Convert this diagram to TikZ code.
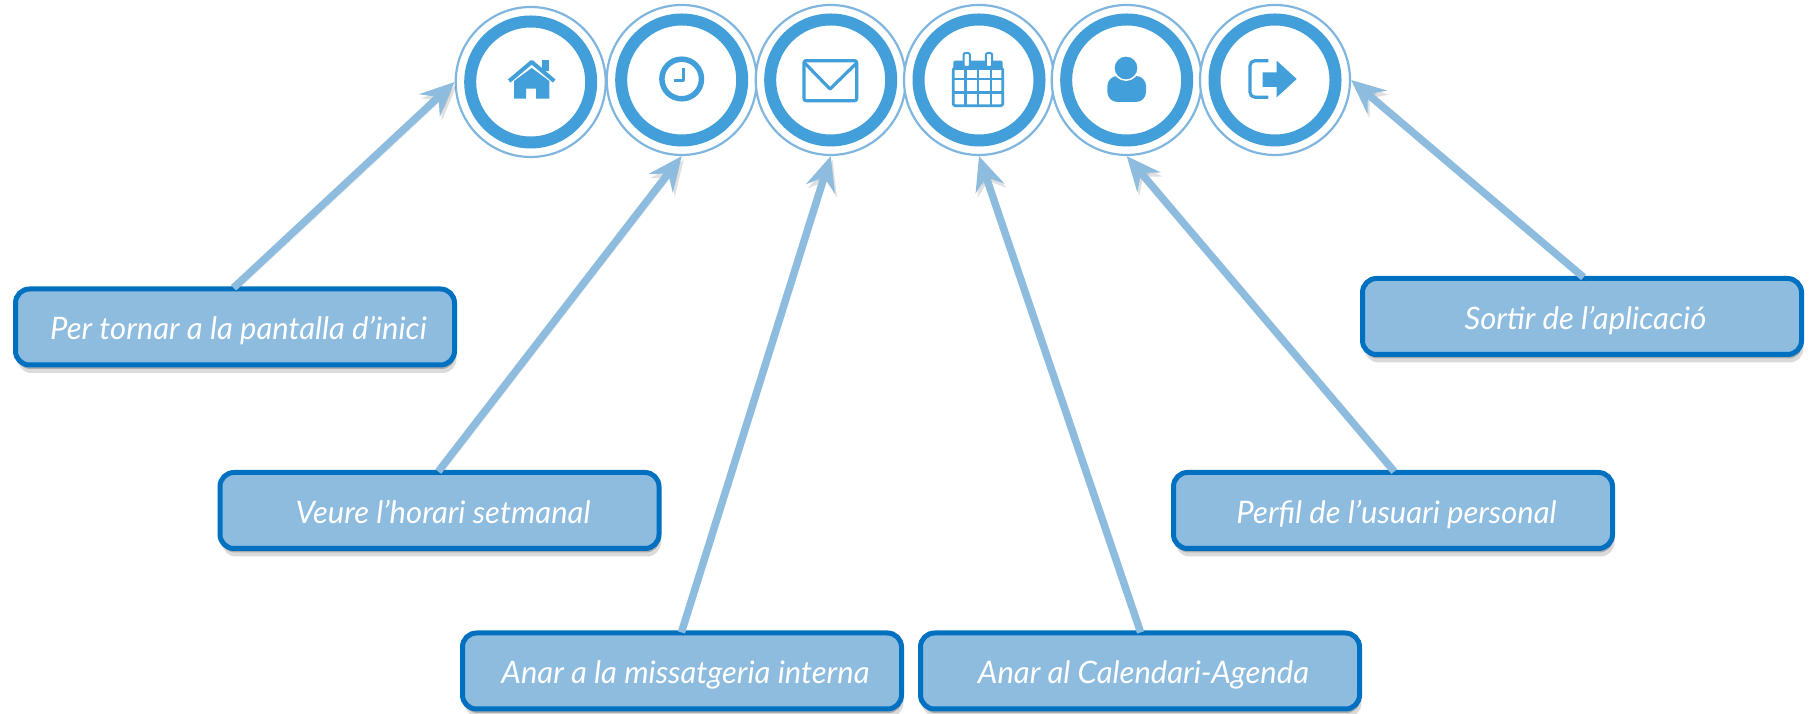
\documentclass[tikz,border=0pt]{standalone}
\usepackage{fontspec}
\setmainfont{Lato}
\usetikzlibrary{arrows.meta,shadows}
\definecolor{ringblue}{HTML}{429FDA}
\definecolor{lineblue}{HTML}{7FB6DF}
\definecolor{boxblue}{HTML}{8DBCDF}
\definecolor{edgeblue}{HTML}{0070C0}
\newcommand{\boxtext}[1]{\hspace*{7pt}#1}
\tikzset{
	iconring/.style={circle,draw=lineblue,line width=2.2pt,fill=white,minimum size=150pt,inner sep=0pt},
	thickring/.style={circle,draw=ringblue,line width=12pt,minimum size=121pt,inner sep=0pt},
	infobox/.style={draw=edgeblue,line width=5pt,fill=boxblue,rounded corners=14pt,
		minimum width=439pt,minimum height=76pt,inner sep=0pt,text=white,
		text height=32pt,text depth=6.4pt,
		font=\itshape\fontsize{31}{36}\selectfont,
		drop shadow={shadow xshift=2pt,shadow yshift=-8pt,opacity=.14,fill=black},
		drop shadow={shadow xshift=1pt,shadow yshift=-4pt,opacity=.22,fill=black}},
	pointer/.style={draw=boxblue,line width=7.5pt,-{Stealth[length=34pt,width=30pt,inset=12pt]},shorten <=-2pt,
		preaction={draw=black,opacity=.12,transform canvas={shift={(2pt,-4pt)}}}},
	icon/.style={ringblue,line width=3.2pt,line join=round}
}
\begin{document}
\begin{tikzpicture}[x=1pt,y=1pt]
\useasboundingbox (0,0) rectangle (1818,714);
% rings
\foreach \name/\px/\py in {home/530.7/632,clock/681.7/634,mail/830.7/634,cal/979/634,person/1126.7/634,exit/1275/634}{
	\node[iconring] (\name) at (\px,\py) {};
	\node[thickring] (\name-in) at (\name) {};
}
% boxes
\node[infobox] (tohome) at (235,387) {\boxtext{Per tornar a la pantalla d’inici}};
\node[infobox] (toclock) at (439.5,203.5) {\boxtext{Veure l’horari setmanal}};
\node[infobox] (tomail) at (682,43) {\boxtext{Anar a la missatgeria interna}};
\node[infobox] (tocal) at (1140,43) {\boxtext{Anar al Calendari-Agenda}};
\node[infobox] (toperson) at (1393,203.5) {\boxtext{Perfil de l’usuari personal}};
\node[infobox] (toexit) at (1582,397.5) {\boxtext{Sortir de l’aplicació}};
% arrows
\draw[pointer] (tohome.north) -- (home.west);
\draw[pointer] (toclock.north) -- (clock.south);
\draw[pointer] (tomail.north) -- (mail.south);
\draw[pointer] (tocal.north) -- (cal.south);
\draw[pointer] (toperson.north) -- (person.south);
\draw[pointer] (toexit.north) -- (exit.east);
% home
\begin{scope}[shift={(home.center)}]
	\fill[ringblue] (-16.7,-16.7) -- (-16.7,1) -- (1,14) -- (18.7,1) -- (18.7,-16.7) -- (5.3,-16.7)
		-- (5.3,-6.7) -- (-4.7,-6.7) -- (-4.7,-16.7) -- cycle;
	\fill[ringblue] (11,11) rectangle (18.7,21.7);
	\draw[icon,line width=4pt] (-21.5,1) -- (1,20) -- (23.5,1);
\end{scope}
% clock
\begin{scope}[shift={(clock.center)}]
	\draw[icon,line width=5.5pt] (0,1) circle (19.8);
	\draw[icon,line width=3pt] (1.7,12) -- (1.7,-0.7) -- (-7.3,-0.7);
\end{scope}
% mail
\begin{scope}[shift={(mail.center)}]
	\draw[icon,rounded corners=2pt] (-26.7,-20.7) rectangle (26,19.3);
	\draw[icon] (-26,17) -- (-0.7,-9) -- (26,17);
\end{scope}
% calendar
\begin{scope}[shift={(cal.center)}]
	\fill[ringblue,rounded corners=1.5pt] (-25.7,10) rectangle (23.7,19.3);
	\draw[icon,line width=2.8pt,rounded corners=1.5pt] (-25.7,-25.7) rectangle (23.7,12);
	\foreach \gx in {-13.5,-0.7,11.7}
		\draw[ringblue,line width=2.2pt] (\gx,-25.7) -- (\gx,12);
	\foreach \gy in {1,-12.5}
		\draw[ringblue,line width=2.2pt] (-25.7,\gy) -- (23.7,\gy);
	\foreach \gx in {-12.3,10}
		\draw[ringblue,fill=white,line width=2pt,rounded corners=2pt] (\gx-3.2,13) rectangle (\gx+3.2,27);
\end{scope}
% person
\begin{scope}[shift={(person.center)}]
	\fill[ringblue,rounded corners=10pt] (-19.3,-22) -- (-19.3,4) -- (19.3,4) -- (19.3,-22) -- cycle;
	\draw[white,line width=1.5pt,fill=ringblue] (-0.7,12) circle (12.2);
\end{scope}
% exit
\begin{scope}[shift={(exit.center)}]
	\draw[icon,rounded corners=5pt] (-6.7,19.3) -- (-25,19.3) -- (-25,-17.3) -- (-6.7,-17.3);
	\fill[ringblue] (-12.3,7.7) -- (1.7,7.7) -- (1.7,19.3) -- (21.7,1) -- (1.7,-17.3) -- (1.7,-7) -- (-12.3,-7) -- cycle;
\end{scope}
\end{tikzpicture}
\end{document}
